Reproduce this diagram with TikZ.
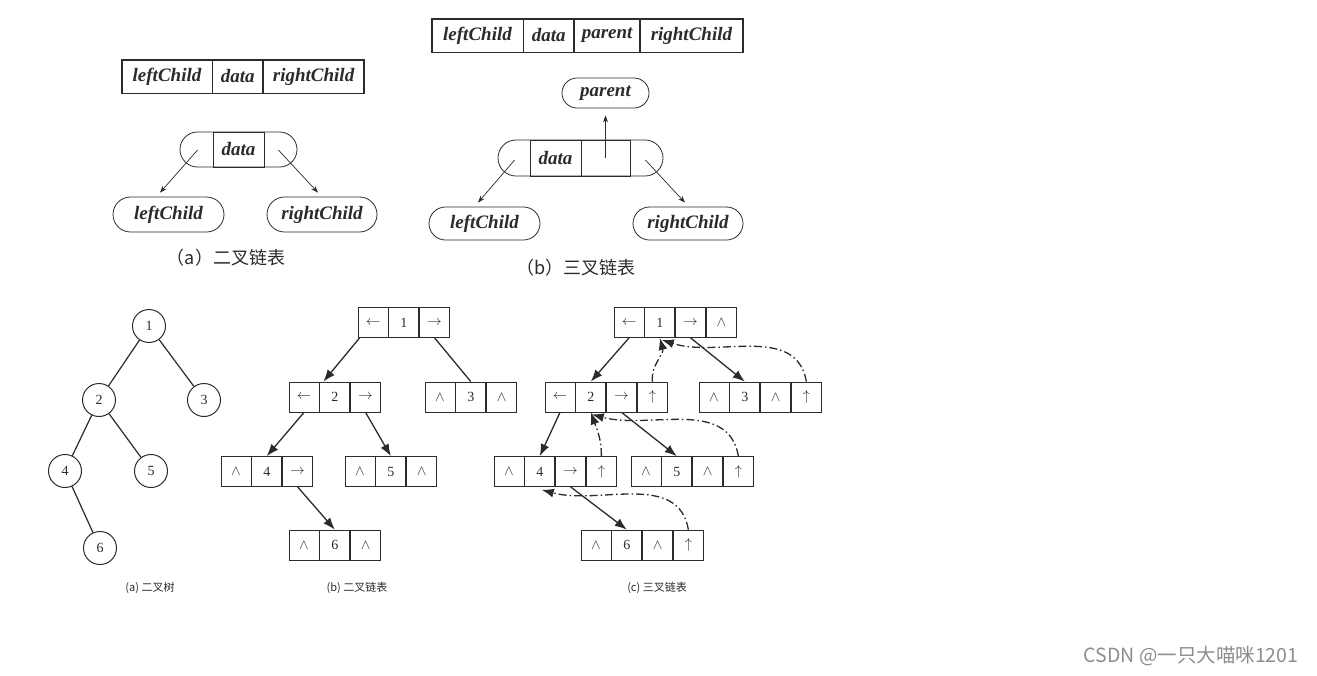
\documentclass[tikz,border=0pt]{standalone}
\usepackage{fontspec}
\setmainfont{Liberation Serif}
\newfontfamily\cjk{Noto Sans CJK SC}
\usetikzlibrary{arrows.meta, positioning, calc, fit, shapes.misc}
\definecolor{ink}{HTML}{2B2B2B}
\definecolor{wmark}{HTML}{8C8C8C}
\tikzset{
  % record fields of the two node layouts (top row)
  fld/.style={draw=ink, line width=0.8pt, minimum height=33pt, inner sep=0pt,
    font=\fontsize{19}{22}\selectfont\itshape\bfseries, text=ink},
  rec/.style={draw=ink, line width=1.6pt, inner sep=0pt},
  % rounded ends (pointer fields / pointed-to nodes)
  pill/.style={draw=ink, line width=0.8pt, rounded rectangle, inner sep=0pt,
    minimum height=35pt, font=\fontsize{19}{22}\selectfont\itshape\bfseries, text=ink},
  % list cells and tree vertices (bottom row)
  cell/.style={draw=ink, line width=0.8pt, minimum size=30pt, inner sep=0pt,
    font=\fontsize{14}{16}\selectfont, text=ink},
  vtx/.style={draw=ink, circle, line width=1pt, minimum size=33pt, inner sep=0pt,
    font=\fontsize{14}{16}\selectfont, text=ink},
  A/.style={-{Stealth[length=7pt,width=5pt]}, line width=0.7pt, draw=ink},
  Ap/.style={-{Latex[length=12pt,width=9pt]}, line width=1.3pt, draw=ink},
  Apd/.style={Ap, dash pattern=on 8pt off 3pt on 1.5pt off 3pt},
  capt/.style={font=\cjk\fontsize{#1}{#1}\selectfont, text=ink},
}

\begin{document}
\begin{tikzpicture}[x=1pt, y=-1pt]
\useasboundingbox[fill=white] (0,0) rectangle (1317,675);

% =====================================================================
% TOP LEFT  (a) binary linked node
% =====================================================================
\node[fld, minimum width=90pt] (aL) at (167,76.5) {leftChild};
\node[fld, minimum width=50pt, right=0pt of aL] (aD) {data};
\node[fld, minimum width=100pt, right=0pt of aD] (aR) {rightChild};
\node[rec, fit=(aL)(aR)] (aRec) {};

\node[pill, minimum width=117pt] (aP) at (238.5,149.5) {};
\node[fld, minimum width=51pt, minimum height=35pt] (aPD) at (aP) {data};
\node[pill, minimum width=111pt] (aLC) at (168.5,214.5) {leftChild};
\node[pill, minimum width=110pt] (aRC) at (322,214.5) {rightChild};

\coordinate (aPl) at ($(aP.west)+(18,0.5)$);
\coordinate (aPr) at ($(aP.east)+(-19,0.5)$);
\draw[A] (aPl) -- ($(aLC.north)+(-8.5,-4)$);
\draw[A] (aPr) -- ($(aRC.north)+(-4,-4)$);

\node[capt=18] (aCap) at (226,258) {（a）二叉链表};

% =====================================================================
% TOP RIGHT  (b) triple linked node
% =====================================================================
\node[fld, minimum width=91pt] (bL) at (477.5,35.5) {leftChild};
\node[fld, minimum width=50pt, right=0pt of bL] (bD) {data};
\node[fld, minimum width=65pt, right=0pt of bD] (bPa) {parent};
\node[fld, minimum width=102pt, right=0pt of bPa] (bR) {rightChild};
\node[rec, fit=(bL)(bR)] (bRec) {};

\node[pill, minimum width=87pt, minimum height=30pt] (bPar) at (605.5,93) {parent};
\node[pill, minimum width=165pt, minimum height=36pt] (bP) at (580.5,158) {};
\node[fld, minimum width=51pt, minimum height=36pt] (bPD) at (555.5,158) {data};
\node[fld, minimum width=49pt, minimum height=36pt] (bPB) at (605.5,158) {};
\node[pill, minimum width=111pt, minimum height=33pt] (bLC) at (484.5,223.5) {leftChild};
\node[pill, minimum width=110pt, minimum height=33pt] (bRC) at (688,223.5) {rightChild};

\draw[A, shorten >=7pt] (bPB.center) -- (bPar.south);
\coordinate (bPl) at ($(bP.west)+(17,2)$);
\coordinate (bPr) at ($(bP.east)+(-18,2)$);
\draw[A] (bPl) -- ($(bLC.north)+(-6.5,-4)$);
\draw[A] (bPr) -- ($(bRC.north)+(-3,-4)$);

\node[capt=18] (bCap) at (576,268) {（b）三叉链表};

% =====================================================================
% BOTTOM LEFT  (a) binary tree
% =====================================================================
\node[vtx] (t1) at (149,326) {1};
\node[vtx] (t2) at (99,400) {2};
\node[vtx] (t3) at (204,400) {3};
\node[vtx] (t4) at (65,471) {4};
\node[vtx] (t5) at (151,471) {5};
\node[vtx] (t6) at (100,548) {6};
\draw[line width=1.2pt, ink] (t1) -- (t2) (t1) -- (t3) (t2) -- (t4) (t2) -- (t5) (t4) -- (t6);

\node[capt=11] (tCap) at (150,588) {(a) 二叉树};

% =====================================================================
% BOTTOM MIDDLE  (b) binary linked list
% =====================================================================
\foreach \nm/\x/\y/\p/\q/\r in {
    1/373/322.5/{$\leftarrow$}/1/{$\rightarrow$},
    2/304/397/{$\leftarrow$}/2/{$\rightarrow$},
    3/440/397/{$\wedge$}/3/{$\wedge$},
    4/236/471.5/{$\wedge$}/4/{$\rightarrow$},
    5/360/471.5/{$\wedge$}/5/{$\wedge$},
    6/304/545/{$\wedge$}/6/{$\wedge$}} {
  \node[cell] (b\nm a) at (\x,\y) {\p};
  \node[cell, right=0pt of b\nm a] (b\nm b) {\q};
  \node[cell, right=0pt of b\nm b] (b\nm c) {\r};
}

\draw[Ap] ($(b1a.south west)+(2,0)$) -- ($(b2b.north west)+(4,0)$);
\draw[line width=1.3pt, ink] (b1c.south) -- (b3b.north);
\draw[Ap] (b2a.south) -- (b4b.north);
\draw[Ap] (b2c.south) -- (b5b.north);
\draw[Ap] (b4c.south) -- (b6b.north);

\node[capt=11] (lCap) at (357,588) {(b) 二叉链表};

% =====================================================================
% BOTTOM RIGHT  (c) triple linked list
% =====================================================================
\foreach \nm/\x/\y/\p/\q/\r/\s in {
    1/629/322.5/{$\leftarrow$}/1/{$\rightarrow$}/{$\wedge$},
    2/560/397/{$\leftarrow$}/2/{$\rightarrow$}/{$\uparrow$},
    3/714/397/{$\wedge$}/3/{$\wedge$}/{$\uparrow$},
    4/509/471.5/{$\wedge$}/4/{$\rightarrow$}/{$\uparrow$},
    5/646/471.5/{$\wedge$}/5/{$\wedge$}/{$\uparrow$},
    6/596/545/{$\wedge$}/6/{$\wedge$}/{$\uparrow$}} {
  \node[cell] (c\nm a) at (\x,\y) {\p};
  \node[cell, right=0pt of c\nm a] (c\nm b) {\q};
  \node[cell, right=0pt of c\nm b] (c\nm c) {\r};
  \node[cell, right=0pt of c\nm c] (c\nm d) {\s};
}

% child pointers
\draw[Ap] (c1a.south) -- (c2b.north);
\draw[Ap] (c1c.south) -- (c3b.north);
\draw[Ap] (c2a.south) -- (c4b.north);
\draw[Ap] (c2c.south) -- (c5b.north);
\draw[Ap] (c4c.south) -- (c6b.north);

% parent pointers
\draw[Apd] (c2d.north) to[out=95, in=-75] (c1b.south);
\draw[Apd] (c3d.north) to[out=100, in=-18] ($(c1b.south)+(2,2)$);
\draw[Apd] (c4d.north) to[out=90, in=-70] (c2b.south);
\draw[Apd] (c5d.north) to[out=100, in=-15] ($(c2b.south)+(1,2)$);
\draw[Apd] (c6d.north) to[out=100, in=-15] ($(c4b.south)+(2,3)$);

\node[capt=11] (cCap) at (657,588) {(c) 三叉链表};

% ── watermark ────────────────────────────────────────────────────────
\node[font=\cjk\fontsize{19.5}{20}\selectfont, text=wmark] (wm) at (1191,656) {CSDN @一只大喵咪1201};

\end{tikzpicture}
\end{document}
